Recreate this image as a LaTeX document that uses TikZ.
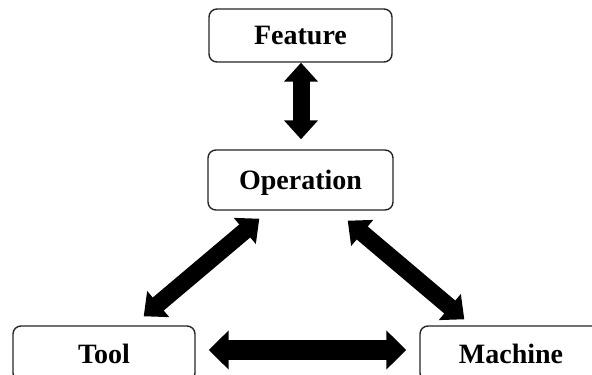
\documentclass[tikz,border=0pt]{standalone}
\usepackage{fontspec}
\setmainfont{Liberation Serif}
\usetikzlibrary{arrows.meta}
\tikzset{
  box/.style={draw=black!85, line width=1.4pt, rounded corners=8pt, inner sep=0pt,
    font=\fontsize{28}{30}\selectfont\bfseries, text height=19pt, text depth=0pt},
  fat/.style={line width=17pt, {Triangle[width=33pt,length=19pt]}-{Triangle[width=33pt,length=19pt]}},
  fatwide/.style={line width=20pt, {Triangle[width=38pt,length=20pt]}-{Triangle[width=38pt,length=20pt]}}
}
\begin{document}
\begin{tikzpicture}[x=1pt,y=1pt]
\clip (0,0) rectangle (592,375);
\fill[white] (0,0) rectangle (592,375);
\node[box, minimum width=183pt, minimum height=53pt] (feature) at (300.5,339.5) {Feature};
\node[box, minimum width=185pt, minimum height=60pt] (operation) at (300.5,195) {Operation};
\node[box, minimum width=182pt, minimum height=55pt] (tool) at (104,21.5) {Tool};
\node[box, minimum width=182pt, minimum height=55pt] (machine) at (511,21.5) {Machine};
\draw[fat] ([xshift=0.5pt]feature.south) -- ([xshift=0.5pt,yshift=10pt]operation.north);
\draw[fat] ([xshift=52pt,yshift=-8pt]operation.south west) -- ([xshift=-52pt,yshift=9pt]tool.north east);
\draw[fat] ([xshift=-46pt,yshift=-10pt]operation.south east) -- ([xshift=45pt,yshift=6pt]machine.north west);
\draw[fatwide] ([xshift=13pt,yshift=3.5pt]tool.east) -- ([xshift=-13pt,yshift=3.5pt]machine.west);
\end{tikzpicture}
\end{document}
